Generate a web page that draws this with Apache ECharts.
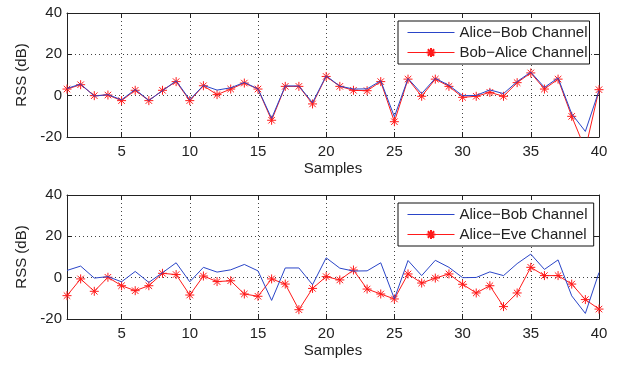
<!DOCTYPE html>
<html>
<head>
<meta charset="utf-8">
<script src="https://cdn.jsdelivr.net/npm/echarts@6/dist/echarts.min.js"></script>
<style>
html,body{margin:0;padding:0;background:#fff;}
#chart{width:622px;height:365px;}
</style>
</head>
<body>
<div id="chart"></div>
<script>
// samples on the x axis
var samples = [1,2,3,4,5,6,7,8,9,10,11,12,13,14,15,16,17,18,19,20,21,22,23,24,25,26,27,28,29,30,31,32,33,34,35,36,37,38,39,40];
var xTicks = [5,10,15,20,25,30,35,40];
// RSS values (dB)
var aliceBob = [3.5,5.6,-0.2,0.5,-2,3,-2.3,2.4,7.2,-2,5,2.7,3.8,6.4,3.3,-11,4.7,4.7,-3.4,9.6,4.6,3.2,3.3,7.2,-10.2,8.3,1,8.4,5,0,0.1,2.8,1,6.8,11.4,4,8.6,-8.8,-17.3,2.5];
var bobAlice = [3.2,5.3,0,0.3,-2.4,2.6,-2.4,2.6,6.8,-2.4,4.8,0.5,3.2,6.1,3.2,-11.9,4.5,4.5,-4,9.3,4.5,2.6,2.4,6.8,-12.6,8,-0.3,8,4.5,-0.8,-0.3,1.6,-0.3,6.3,11,3.2,8,-10,-26,2.9];
var aliceEve = [-8.7,-0.6,-6.6,0.2,-3.9,-6.3,-3.9,2.1,1.5,-8.4,0.8,-1.9,-1.5,-7.9,-9,-0.6,-3.1,-15.5,-5.2,0.5,-1.1,3.7,-5.5,-7.9,-10.3,1.8,-2.6,-0.2,1.8,-3.2,-7.4,-3.9,-14,-7.4,5,1,1,-3.1,-10.6,-15.2];

var FONT = 'Liberation Sans, Arial, sans-serif';
var BLUE = '#2a45c8';
var RED = '#ff1a1a';
var STAR = 'path://M0,-5L0,5M-5,0L5,0M-3.6,-3.6L3.6,3.6M-3.6,3.6L3.6,-3.6';

var chart = echarts.init(document.getElementById('chart'));

function pairs(vals) {
    return samples.map(function (s, i) { return [s, vals[i]]; });
}

function xAxisFor(gi, main) {
    return {
        type: 'value', gridIndex: gi, min: 1, max: 40,
        position: main ? 'bottom' : 'top',
        name: main ? 'Samples' : '', nameLocation: 'middle', nameGap: 24,
        nameTextStyle: {fontFamily: FONT, fontSize: 15, color: '#222'},
        axisLine: {onZero: false, lineStyle: {color: '#222', width: 1}},
        axisTick: {show: true, inside: true, length: 5, customValues: xTicks, lineStyle: {color: '#222'}},
        axisLabel: {show: main, customValues: xTicks, fontFamily: FONT, fontSize: 15, color: '#222', margin: 7},
        splitLine: {show: main, lineStyle: {color: '#444', type: [1, 3], width: 1}}
    };
}

function yAxisFor(gi, main) {
    return {
        type: 'value', gridIndex: gi, min: -20, max: 40, interval: 20,
        position: main ? 'left' : 'right',
        name: main ? 'RSS (dB)' : '', nameLocation: 'middle', nameGap: 34,
        nameTextStyle: {fontFamily: FONT, fontSize: 15, color: '#222'},
        axisLine: {show: true, onZero: false, lineStyle: {color: '#222', width: 1}},
        axisTick: {show: true, inside: true, length: 5, lineStyle: {color: '#222'}},
        axisLabel: {show: main, fontFamily: FONT, fontSize: 15, color: '#222', margin: 5},
        splitLine: {show: main, lineStyle: {color: '#444', type: [1, 3], width: 1}}
    };
}

function legendFor(top, names) {
    return {
        // the plain blue line has no marker in the legend
        data: [{name: names[0], itemStyle: {opacity: 0}}, names[1]],
        orient: 'vertical', left: 398, top: top,
        padding: [4, 2, 4, 9], itemGap: 5, itemWidth: 47, itemHeight: 11,
        borderColor: '#111', borderWidth: 1, backgroundColor: '#fff',
        lineStyle: {width: 1},
        textStyle: {fontFamily: FONT, fontSize: 15, color: '#222'},
        selectedMode: false
    };
}

function plain(name, vals, x, y) {
    return {
        name: name, type: 'line', xAxisIndex: x, yAxisIndex: y, data: pairs(vals),
        showSymbol: false, symbol: 'none', lineStyle: {color: BLUE, width: 1}, itemStyle: {color: BLUE},
        animation: false, z: 3
    };
}

function starred(name, vals, x, y) {
    return {
        name: name, type: 'line', xAxisIndex: x, yAxisIndex: y, data: pairs(vals),
        symbol: STAR, symbolSize: 9, clip: true,
        lineStyle: {color: RED, width: 1},
        itemStyle: {color: RED, borderColor: RED, borderWidth: 1},
        animation: false, z: 2
    };
}

chart.setOption({
    backgroundColor: '#fff',
    grid: [
        {left: 67, right: 23, top: 13, height: 124, show: false},
        {left: 67, right: 23, top: 195, height: 124, show: false}
    ],
    legend: [
        legendFor(21, ['Alice−Bob Channel', 'Bob−Alice Channel']),
        legendFor(203, ['Alice−Bob Channel ', 'Alice−Eve Channel'])
    ],
    xAxis: [xAxisFor(0, true), xAxisFor(0, false), xAxisFor(1, true), xAxisFor(1, false)],
    yAxis: [yAxisFor(0, true), yAxisFor(0, false), yAxisFor(1, true), yAxisFor(1, false)],
    series: [
        starred('Bob−Alice Channel', bobAlice, 0, 0),
        plain('Alice−Bob Channel', aliceBob, 0, 0),
        starred('Alice−Eve Channel', aliceEve, 2, 2),
        plain('Alice−Bob Channel ', aliceBob, 2, 2)
    ]
});
</script>
</body>
</html>
